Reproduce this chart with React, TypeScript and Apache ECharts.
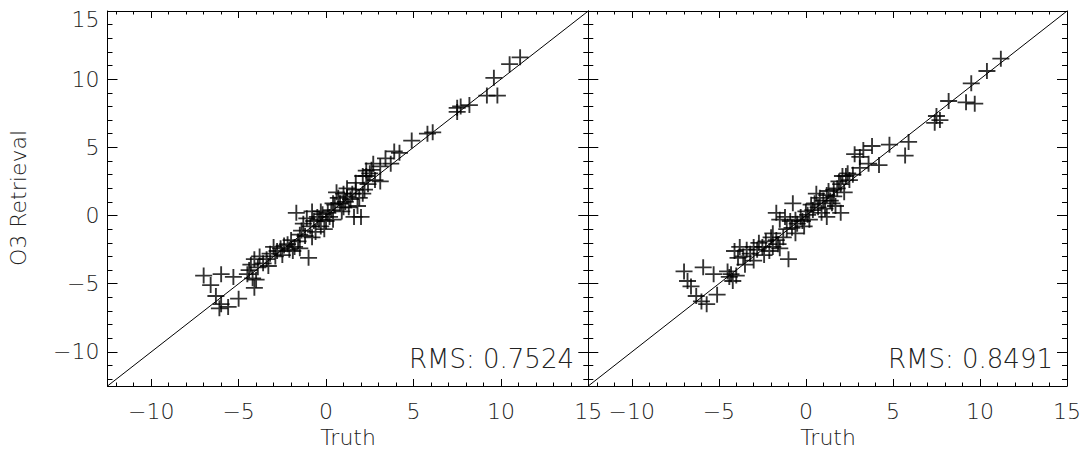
import React, { useEffect, useRef } from "react";
import * as echarts from "echarts";

// Left panel: [truth, retrieval]
const leftPoints: number[][] = [
  [11.1, 11.6], [10.5, 11.1], [9.6, 10.1], [9.2, 8.8], [9.8, 8.8], [7.5, 7.9], [7.7, 8.0], [8.2, 8.1], [7.5, 7.6],
  [5.8, 6.0], [6.1, 6.1], [4.9, 5.5], [3.9, 4.7], [4.2, 4.6], [3.4, 4.2], [3.7, 3.8], [2.7, 3.8], [3.1, 3.6],
  [2.3, 3.3], [2.5, 3.1], [3.1, 2.5], [2.1, 2.9], [1.7, 2.4],
  [2.6, 3.35], [2.3, 2.9], [2.1, 1.6], [1.8, 0.7], [1.4, 1.2], [1.0, 1.6], [0.7, 1.3], [1.2, 2.0], [1.6, -0.1],
  [0.4, -0.3], [0.1, 0.2], [-0.3, -0.8], [-0.5, -0.1], [-0.8, 0.3], [-1.3, -0.6], [-1.5, -1.4], [-1.7, 0.2],
  [-1.0, -3.1], [-1.5, -2.4], [-1.8, -2.3], [-2.2, -2.1], [-2.6, -2.4], [-2.9, -3.0], [-3.4, -3.2], [-3.8, -3.0],
  [-4.1, -3.2], [-4.4, -4.0], [-4.1, -5.3], [-4.2, -4.6], [-5.3, -4.5], [-6.0, -4.3], [-7.0, -4.4], [-6.6, -5.1],
  [-6.3, -5.9], [-5.0, -6.1], [-6.0, -6.5], [-5.6, -6.7], [-6.1, -6.8],
  [-3.6, -3.5], [-3.2, -2.8], [-2.8, -2.6], [-2.4, -2.2], [-2.0, -1.8], [-1.9, -2.6], [-1.2, -1.5], [-0.9, -0.8],
  [-0.6, -1.2], [-0.4, -0.3], [-0.2, 0.1], [0.0, -0.4], [0.3, 0.4], [0.5, 0.8], [0.8, 0.9], [1.1, 1.0], [1.3, 0.6],
  [1.5, 1.6], [1.9, 1.3], [2.2, 1.9], [2.4, 2.3], [0.6, 1.7], [0.9, 0.3], [-0.1, -1.0], [-0.7, -0.4], [-1.1, -0.2],
  [-3.9, -3.8], [-4.3, -3.6], [-3.3, -3.7], [-2.5, -2.9], [-1.6, -1.9], [-0.3, 0.3], [0.2, -0.1], [1.7, 1.9],
  [2.8, 2.6], [1.0, 0.6], [-4.5, -4.3], [-3.0, -2.3], [-2.1, -2.5], [-4.0, -4.7], [0.4, 0.9], [1.2, 1.4],
  [-0.8, -1.6], [-1.4, -1.1], [2.0, -0.1],
];

// Right panel: [truth, retrieval]
const rightPoints: number[][] = [
  [11.2, 11.5], [10.4, 10.6], [9.5, 9.7], [9.2, 8.3], [9.7, 8.2], [8.2, 8.4], [7.5, 7.3], [7.7, 7.0], [7.4, 6.8],
  [5.9, 5.4], [5.7, 4.4], [4.8, 5.2], [3.8, 5.1], [4.2, 3.7], [3.6, 3.8], [3.1, 4.3], [2.8, 4.5], [3.3, 4.8],
  [3.1, 3.5], [2.4, 3.1], [2.1, 2.9], [1.9, 2.5], [1.6, 1.9],
  [2.3, 2.9], [2.0, 0.2], [1.5, 0.9], [1.2, 1.5], [0.8, 1.3], [1.2, -0.1], [0.4, 0.4], [0.1, 0.05], [-0.2, -0.4],
  [-0.6, -0.3], [-0.75, 0.9], [-1.5, -0.3], [-1.7, 0.2], [-1.9, -1.3], [-1.0, -3.2], [-1.5, -2.4], [-1.9, -2.3],
  [-2.3, -1.9], [-2.7, -2.0], [-3.0, -2.3], [-3.4, -2.5], [-3.8, -2.3], [-4.1, -2.6], [-3.9, -3.1], [-4.4, -4.5],
  [-4.2, -4.8], [-5.3, -4.3], [-5.9, -3.8], [-7.0, -4.1], [-6.8, -4.8], [-6.6, -5.2], [-6.3, -5.9], [-5.1, -5.8],
  [-6.0, -6.3], [-5.7, -6.5],
  [-4.3, -4.3], [-4.0, -4.4], [-3.6, -3.0], [-3.2, -2.8], [-2.8, -2.5], [-2.5, -2.3], [-2.1, -2.6], [-1.7, -1.8],
  [-1.3, -1.6], [-1.1, -1.0], [-0.8, -0.9], [-0.5, -0.6], [-0.3, -0.1], [0.0, 0.3], [0.2, -0.3], [0.5, 0.9],
  [0.7, 0.6], [1.0, 1.1], [1.3, 1.8], [1.6, 1.4], [1.8, 2.0], [2.2, 1.7], [2.5, 2.6], [0.9, 0.2], [-0.1, -0.8],
  [-0.9, -0.4], [-1.2, -0.1], [-3.5, -3.6], [-2.4, -2.9], [-1.6, -2.1], [0.3, 0.8], [1.4, 1.1], [2.0, 2.3],
  [2.7, 3.0], [-2.0, -1.6], [-0.6, -1.3], [1.1, 0.5], [-3.0, -3.3], [-4.5, -4.1], [0.6, 1.6], [1.7, 0.7],
];

const rmsLabels = ["RMS: 0.7524", "RMS: 0.8491"];
const majorTicks = [-10, -5, 0, 5, 10, 15];
const minorTicks = [-12, -11, -9, -8, -7, -6, -4, -3, -2, -1, 1, 2, 3, 4, 6, 7, 8, 9, 11, 12, 13, 14];
const axisMin = -12.5;
const axisMax = 15;
const diagonal = [[axisMin, axisMin], [axisMax, axisMax]];

const FONT = "'DejaVu Sans', sans-serif";
const TEXT_COLOR = "#222";
const fmt = (v: number) => (v < 0 ? "\u2212" + Math.abs(v) : String(v));
const plusPath =
  "path://M-0.11,-1L0.11,-1L0.11,-0.11L1,-0.11L1,0.11L0.11,0.11L0.11,1L-0.11,1L-0.11,0.11L-1,0.11L-1,-0.11L-0.11,-0.11Z";

const grids = [
  { left: 107.5, top: 11, width: 480.8, height: 375 },
  { left: 588.3, top: 11, width: 480, height: 375 },
];

function makeAxis(
  gridIndex: number,
  position: string,
  ticks: number[],
  len: number,
  showLine: boolean,
  labels: boolean,
  isX: boolean
): any {
  return {
    type: "value",
    gridIndex,
    position,
    min: axisMin,
    max: axisMax,
    axisLine: { show: showLine, onZero: false, lineStyle: { color: "#000", width: 1 } },
    axisTick: { show: true, inside: true, length: len, customValues: ticks, lineStyle: { color: "#000", width: 1 } },
    axisLabel: labels
      ? {
          show: true,
          customValues: majorTicks,
          margin: isX ? 14 : 8,
          color: TEXT_COLOR,
          fontFamily: FONT,
          fontWeight: 200,
          fontSize: 22,
          formatter: (v: number) => (!isX && v === 15 ? "{t|15}" : fmt(v)),
          rich: { t: { padding: [16, 0, 0, 0], fontSize: 22, fontFamily: FONT, fontWeight: 200, color: TEXT_COLOR } },
        }
      : { show: false },
    splitLine: { show: false },
  };
}

export default function App() {
  const ref = useRef<HTMLDivElement>(null);
  useEffect(() => {
    if (!ref.current) return;
    const chart = echarts.init(ref.current, undefined, { renderer: "svg" });
    const xAxis: any[] = [];
    const yAxis: any[] = [];
    [0, 1].forEach((g) => {
      xAxis.push(makeAxis(g, "bottom", majorTicks, 7, true, true, true));
      xAxis.push(makeAxis(g, "bottom", minorTicks, 3.5, false, false, true));
      xAxis.push(makeAxis(g, "top", majorTicks, 7, true, false, true));
      xAxis.push(makeAxis(g, "top", minorTicks, 3.5, false, false, true));
      yAxis.push(makeAxis(g, "left", majorTicks, 10, true, g === 0, false));
      yAxis.push(makeAxis(g, "left", minorTicks, 5, false, false, false));
      yAxis.push(makeAxis(g, "right", majorTicks, 10, true, false, false));
      yAxis.push(makeAxis(g, "right", minorTicks, 5, false, false, false));
    });
    const datasets = [leftPoints, rightPoints];
    const series: any[] = [];
    [0, 1].forEach((g) => {
      series.push({
        type: "line",
        xAxisIndex: g * 4,
        yAxisIndex: g * 4,
        data: diagonal,
        symbol: "none",
        lineStyle: { color: "#000", width: 1 },
        silent: true,
      });
      series.push({
        type: "scatter",
        xAxisIndex: g * 4,
        yAxisIndex: g * 4,
        data: datasets[g],
        symbol: plusPath,
        symbolSize: [17, 16],
        itemStyle: { color: "#000" },
      });
    });
    const textStyle = (extra: any) => ({ fill: TEXT_COLOR, fontFamily: FONT, fontWeight: 200, ...extra });
    chart.setOption({
      animation: false,
      backgroundColor: "#fff",
      grid: grids.map((g) => ({ ...g, containLabel: false })),
      xAxis,
      yAxis,
      series,
      graphic: [
        {
          type: "text",
          x: 18,
          y: 198,
          rotation: Math.PI / 2,
          style: textStyle({ text: "O3 Retrieval", fontSize: 22, textAlign: "center", textVerticalAlign: "middle" }),
        },
        {
          type: "text",
          x: 348,
          y: 437,
          style: textStyle({ text: "Truth", fontSize: 22, textAlign: "center", textVerticalAlign: "middle" }),
        },
        {
          type: "text",
          x: 828,
          y: 437,
          style: textStyle({ text: "Truth", fontSize: 22, textAlign: "center", textVerticalAlign: "middle" }),
        },
        {
          type: "text",
          x: 574,
          y: 359,
          style: textStyle({ text: rmsLabels[0], fontSize: 26, textAlign: "right", textVerticalAlign: "middle" }),
        },
        {
          type: "text",
          x: 1053,
          y: 359,
          style: textStyle({ text: rmsLabels[1], fontSize: 26, textAlign: "right", textVerticalAlign: "middle" }),
        },
      ],
    });
    return () => chart.dispose();
  }, []);
  return (
    <div
      ref={ref}
      style={{ position: "absolute", left: 0, top: 0, width: 1084, height: 451, background: "#fff" }}
    />
  );
}
